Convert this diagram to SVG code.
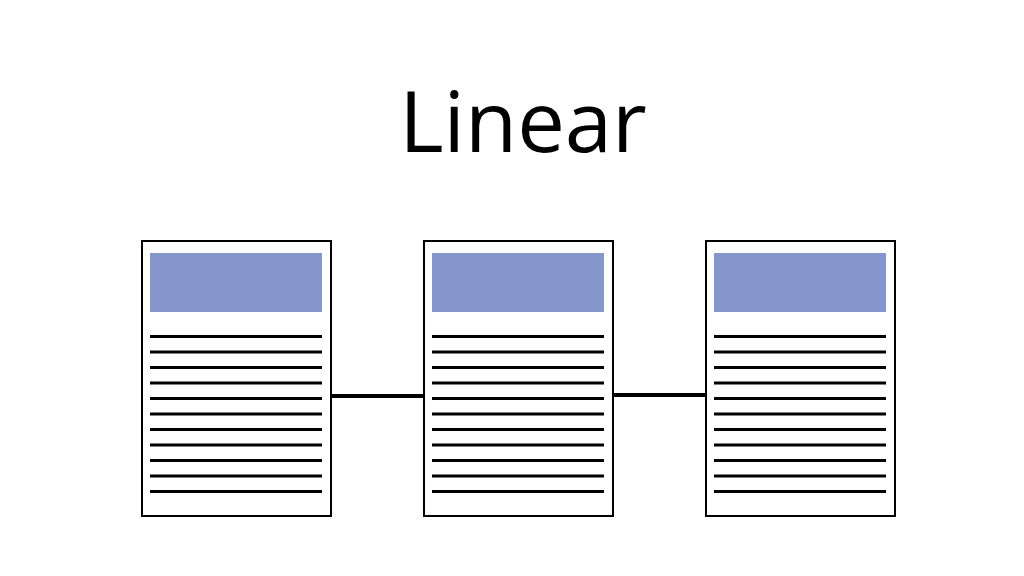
<svg xmlns="http://www.w3.org/2000/svg" width="1024" height="576" viewBox="0 0 1024 576">
<defs>
<style>
.page{fill:#fff;stroke:#000;stroke-width:2}
.hdr{fill:#8496CB}
.ln{stroke:#000;stroke-width:3}
.conn{stroke:#000;stroke-width:4;fill:none}
.title{font-family:"Open Sans","Noto Sans",sans-serif;font-size:85px;fill:#000}
</style>
<g id="doc">
<rect class="page" x="0" y="0" width="189" height="275"/>
<rect class="hdr" x="8" y="12" width="172" height="59"/>
<g class="ln">
<line x1="8" x2="180" y1="95.5" y2="95.5"/>
<line x1="8" x2="180" y1="111" y2="111"/>
<line x1="8" x2="180" y1="126.5" y2="126.5"/>
<line x1="8" x2="180" y1="142" y2="142"/>
<line x1="8" x2="180" y1="157.5" y2="157.5"/>
<line x1="8" x2="180" y1="173" y2="173"/>
<line x1="8" x2="180" y1="188.5" y2="188.5"/>
<line x1="8" x2="180" y1="204" y2="204"/>
<line x1="8" x2="180" y1="219.5" y2="219.5"/>
<line x1="8" x2="180" y1="235" y2="235"/>
<line x1="8" x2="180" y1="250.5" y2="250.5"/>
</g>
</g>
</defs>
<rect width="1024" height="576" fill="#fff"/>
<text class="title" x="523" y="152" text-anchor="middle">Linear</text>
<g id="connectors">
<line class="conn" x1="331" y1="396" x2="424" y2="396"/>
<line class="conn" x1="613" y1="395" x2="706" y2="395"/>
</g>
<g id="node1"><use href="#doc" x="142" y="241"/></g>
<g id="node2"><use href="#doc" x="424" y="241"/></g>
<g id="node3"><use href="#doc" x="706" y="241"/></g>
</svg>
